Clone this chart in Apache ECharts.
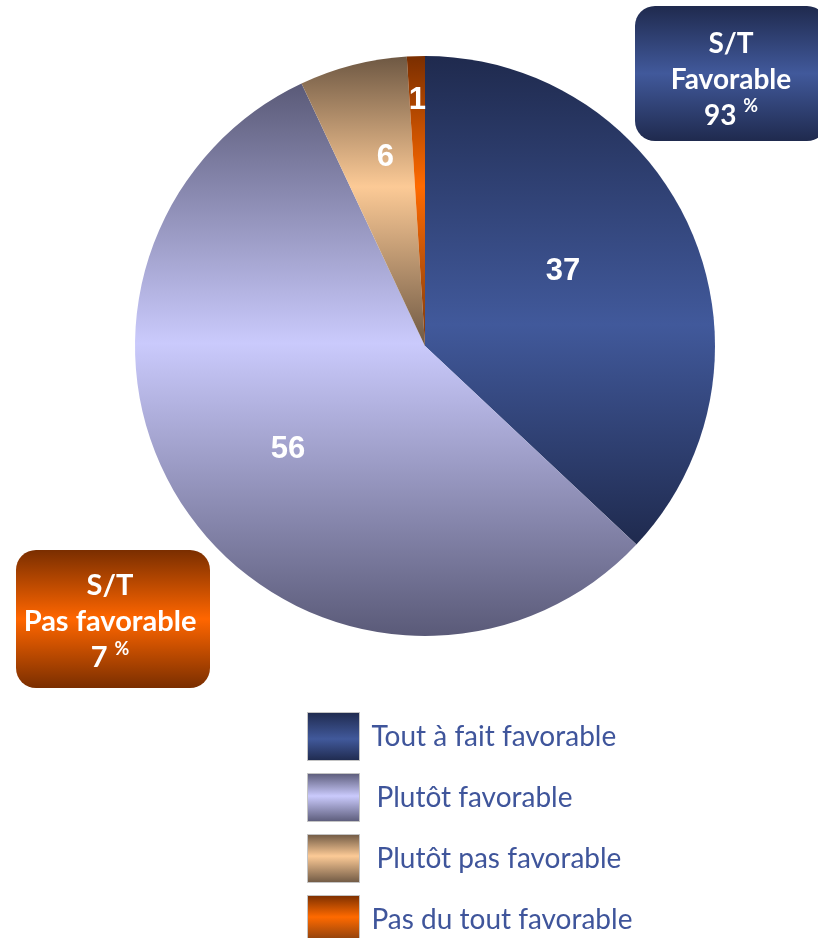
<!DOCTYPE html>
<html>
<head>
<meta charset="utf-8">
<script src="https://cdn.jsdelivr.net/npm/echarts@6/dist/echarts.min.js"></script>
<style>
  html, body { margin: 0; padding: 0; background: #fff; }
  #main { width: 818px; height: 938px; }
</style>
</head>
<body>
<div id="main"></div>
<script>
var categories = ['Tout à fait favorable', 'Plutôt favorable', 'Plutôt pas favorable', 'Pas du tout favorable']
var values = [37, 56, 6, 1]
// where each number sits: share of the radius, and turn (deg) from the slice middle
var labelRadius = [0.53, 0.58, 0.65, 0.83]
var labelTurn = [-5, -1, 2.5, 0]
var groupTitles = ['Favorable', 'Pas favorable']

var pieCenter = [425, 346]

function grad (stops) {
  return new echarts.graphic.LinearGradient(0, 0, 0, 1, stops)
}

var sliceColors = [
  grad([{offset: 0, color: '#1f2a4e'}, {offset: 0.55, color: '#41599b'}, {offset: 1, color: '#1f2a4e'}]),
  grad([{offset: 0, color: '#5a5a78'}, {offset: 0.47, color: '#cacafc'}, {offset: 1, color: '#5a5a78'}]),
  grad([{offset: 0, color: '#6e5843'}, {offset: 0.45, color: '#fcca96'}, {offset: 1, color: '#6e5843'}]),
  grad([{offset: 0, color: '#7a2e00'}, {offset: 0.45, color: '#ff6a00'}, {offset: 1, color: '#7a3a10'}])
]

var favorable = values[0] + values[1]
var notFavorable = values[2] + values[3]

function boxText (title, pct) {
  return 'S/T\n' + title + '\n{n|' + pct + ' }{p|%}'
}

function boxTextStyle (text, size) {
  return {
    text: text,
    fill: '#fff',
    fontFamily: 'Lato',
    fontWeight: 'bold',
    fontSize: size,
    lineHeight: 36,
    align: 'center',
    rich: {
      n: {fontFamily: 'Lato', fontWeight: 'bold', fontSize: size, color: '#fff', lineHeight: 36},
      p: {fontFamily: 'Lato', fontWeight: 'bold', fontSize: 18, color: '#fff', lineHeight: 36, verticalAlign: 'top'}
    }
  }
}

var myChart = echarts.init(document.getElementById('main'))
var option = {
  animation: false,
  legend: {
    orient: 'vertical',
    left: 307,
    top: 712,
    height: 320,
    padding: 0,
    itemWidth: 52,
    itemHeight: 48,
    itemGap: 12,
    selectedMode: false,
    icon: 'rect',
    itemStyle: {
      borderColor: '#c4c4c4',
      borderWidth: 1
    },
    textStyle: {
      color: '#3f559b',
      fontFamily: 'Lato',
      fontSize: 28
    },
    data: categories.map(function (name, i) {
      return {
        name: name,
        textStyle: {padding: [0, 0, 0, (i === 1 || i === 2) ? 12 : 7]}
      }
    })
  },
  series: [
    {
      type: 'pie',
      center: pieCenter,
      radius: 290,
      startAngle: 90,
      clockwise: true,
      silent: true,
      label: {
        show: true,
        position: 'inside',
        formatter: '{c}',
        color: '#fff',
        fontFamily: 'Liberation Sans',
        fontWeight: 'bold',
        fontSize: 31
      },
      labelLine: {show: false},
      labelLayout: function (params) {
        var i = params.dataIndex
        var r = params.labelRect
        var vx = r.x + r.width / 2 - pieCenter[0]
        var vy = r.y + r.height / 2 - pieCenter[1]
        var k = labelRadius[i] / 0.5
        var a = labelTurn[i] * Math.PI / 180
        var nx = (vx * Math.cos(a) - vy * Math.sin(a)) * k
        var ny = (vx * Math.sin(a) + vy * Math.cos(a)) * k
        return {dx: nx - vx, dy: ny - vy}
      },
      data: categories.map(function (name, i) {
        return {name: name, value: values[i], itemStyle: {color: sliceColors[i]}}
      })
    }
  ],
  graphic: [
    {
      type: 'rect',
      left: 635,
      top: 6,
      shape: {width: 192, height: 135, r: 20},
      style: {
        fill: grad([{offset: 0, color: '#1f2a4e'}, {offset: 0.5, color: '#41599b'}, {offset: 1, color: '#1f2a4e'}])
      },
      textContent: {
        style: boxTextStyle(boxText(groupTitles[0], favorable), 28)
      },
      textConfig: {position: 'inside', offset: [0, 6]}
    },
    {
      type: 'rect',
      left: 16,
      top: 550,
      shape: {width: 194, height: 138, r: 20},
      style: {
        fill: grad([{offset: 0, color: '#7a2e00'}, {offset: 0.5, color: '#ff6600'}, {offset: 1, color: '#7a2e00'}])
      },
      textContent: {
        style: boxTextStyle(boxText(groupTitles[1], notFavorable), 29)
      },
      textConfig: {position: 'inside', offset: [-3, 3]}
    }
  ]
}
option && myChart.setOption(option)
</script>
</body>
</html>
